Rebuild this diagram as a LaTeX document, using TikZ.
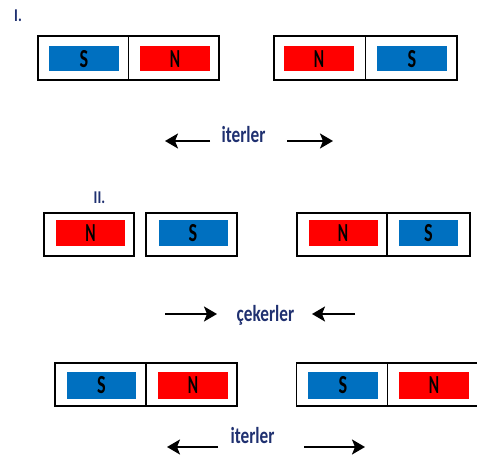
\documentclass[tikz,border=0pt]{standalone}
\usepackage{fontspec}
\setmainfont{Carlito}
\usetikzlibrary{arrows.meta}
\definecolor{pblue}{HTML}{0070C0}
\definecolor{pred}{HTML}{FF0000}
\definecolor{txt}{HTML}{1F3070}
\begin{document}
\begin{tikzpicture}[x=1pt,y=-1pt,
  mag/.style={draw=black,line width=1.6pt,inner sep=0pt,minimum height=44pt},
  divider/.style={draw=black,line width=1.4pt},
  pole/.style={inner sep=0pt,minimum width=70pt,minimum height=25pt,
    font=\fontsize{26}{26}\selectfont\bfseries,text=black},
  spole/.style={pole,fill=pblue},
  npole/.style={pole,fill=pred},
  lbl/.style={inner sep=0pt,text=txt,font=\fontsize{23}{23}\selectfont\bfseries},
  arr/.style={line width=2pt,-{Stealth[length=13pt,width=15pt,inset=3pt]}}]
\useasboundingbox (0,0) rectangle (477,462);

% labels
\node[lbl,font=\fontsize{18}{18}\selectfont\bfseries] (l1) at (18,16) {\scalebox{0.8}[1]{I.}};
\node[lbl,font=\fontsize{18}{18}\selectfont\bfseries] (l2) at (99.5,197.5) {\scalebox{0.8}[1]{II.}};

% Row 1
\node[mag,minimum width=181pt] (m1) at (128.5,58) {};
\draw[divider] (m1.north) -- (m1.south);
\node[spole] (s1) at (84,59) {\raisebox{-3pt}{\scalebox{0.7}[1]{S}}};
\node[npole] (n1) at (175,59) {\raisebox{-3pt}{\scalebox{0.6}[1]{N}}};
\node[mag,minimum width=183pt] (m2) at (365.5,58) {};
\draw[divider] (m2.north) -- (m2.south);
\node[npole] (n2) at (319,59) {\raisebox{-3pt}{\scalebox{0.6}[1]{N}}};
\node[spole] (s2) at (412,59) {\raisebox{-3pt}{\scalebox{0.7}[1]{S}}};

\node[lbl] (t1) at (243.5,135) {\scalebox{0.75}[1]{iterler}};
\coordinate (a1s) at (210,141); \coordinate (a1e) at (165,141);
\coordinate (a2s) at (287,141); \coordinate (a2e) at (333,141);
\draw[arr] (a1s) -- (a1e);
\draw[arr] (a2s) -- (a2e);

% Row 2
\node[mag,minimum width=90pt,minimum height=43pt] (m3) at (89,234.5) {};
\node[npole,minimum width=69pt,minimum height=26pt] (n3) at (90.5,233) {\raisebox{-3pt}{\scalebox{0.6}[1]{N}}};
\node[mag,minimum width=91pt,minimum height=43pt] (m4) at (191.5,234.5) {};
\node[spole,minimum width=69pt,minimum height=26pt] (s4) at (193,233) {\raisebox{-3pt}{\scalebox{0.7}[1]{S}}};
\node[mag,minimum width=173pt,minimum height=43pt] (m5) at (383.5,234.5) {};
\draw[divider] ([xshift=3.5pt]m5.north) -- ([xshift=3.5pt]m5.south);
\node[npole,minimum width=69pt,minimum height=26pt] (n5) at (343,233) {\raisebox{-3pt}{\scalebox{0.6}[1]{N}}};
\node[spole,minimum width=59pt,minimum height=26pt] (s5) at (428.5,233) {\raisebox{-3pt}{\scalebox{0.7}[1]{S}}};

\node[lbl] (t2) at (265.5,315) {\scalebox{0.75}[1]{çekerler}};
\coordinate (a3s) at (165,314); \coordinate (a3e) at (217,314);
\coordinate (a4s) at (355,314); \coordinate (a4e) at (312,314);
\draw[arr] (a3s) -- (a3e);
\draw[arr] (a4s) -- (a4e);

% Row 3
\node[mag,minimum width=182pt,minimum height=43pt] (m6) at (146,384.5) {};
\draw[divider] (m6.north) -- (m6.south);
\node[spole,minimum width=69pt,minimum height=27pt] (s6) at (101.5,385.5) {\raisebox{-3pt}{\scalebox{0.7}[1]{S}}};
\node[npole,minimum width=70pt,minimum height=27pt] (n6) at (193,385.5) {\raisebox{-3pt}{\scalebox{0.6}[1]{N}}};
\node[mag,minimum width=182pt,minimum height=43pt] (m7) at (387.5,384.5) {};
\draw[divider] (m7.north) -- (m7.south);
\node[spole,minimum width=70pt,minimum height=27pt] (s7) at (343,385.5) {\raisebox{-3pt}{\scalebox{0.7}[1]{S}}};
\node[npole,minimum width=70pt,minimum height=27pt] (n7) at (434,385.5) {\raisebox{-3pt}{\scalebox{0.6}[1]{N}}};

\node[lbl] (t3) at (252.5,436) {\scalebox{0.75}[1]{iterler}};
\coordinate (a5s) at (218,447); \coordinate (a5e) at (167,447);
\coordinate (a6s) at (304,447); \coordinate (a6e) at (365,447);
\draw[arr] (a5s) -- (a5e);
\draw[arr] (a6s) -- (a6e);
\end{tikzpicture}
\end{document}
